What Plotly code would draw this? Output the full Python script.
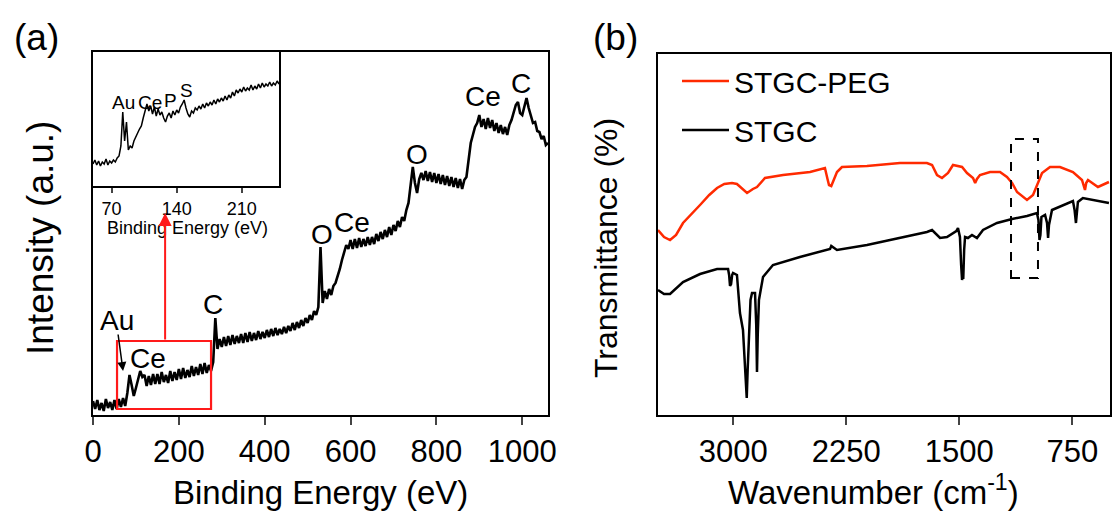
import plotly.graph_objects as go

FONT = "Arial, 'Liberation Sans', Helvetica, sans-serif"
W, H = 1112, 512

# ---------------- (a) XPS survey spectrum ----------------
xps_be = [
    0, 5, 10, 15, 20, 25, 30, 35, 40, 45,
    50, 55, 60, 65, 70, 75, 80, 85, 90, 95,
    100, 105, 110, 115, 120, 125, 130, 135, 140, 145,
    150, 155, 160, 165, 170, 175, 180, 185, 190, 195,
    200, 205, 210, 215, 220, 225, 230, 235, 240, 245,
    250, 255, 260, 265, 270, 275, 280, 285, 290, 295,
    300, 305, 310, 315, 320, 325, 330, 335, 340, 345,
    350, 355, 360, 365, 370, 375, 380, 385, 390, 395,
    400, 405, 410, 415, 420, 425, 430, 435, 440, 445,
    450, 455, 460, 465, 470, 475, 480, 485, 490, 495,
    500, 505, 510, 515, 520, 525, 530, 535, 540, 545,
    550, 555, 560, 565, 570, 575, 580, 585, 590, 595,
    600, 605, 610, 615, 620, 625, 630, 635, 640, 645,
    650, 655, 660, 665, 670, 675, 680, 685, 690, 695,
    700, 705, 710, 715, 720, 725, 730, 735, 740, 745,
    750, 755, 760, 765, 770, 775, 780, 785, 790, 795,
    800, 805, 810, 815, 820, 825, 830, 835, 840, 845,
    850, 855, 860, 865, 870, 875, 880, 885, 890, 895,
    900, 905, 910, 915, 920, 925, 930, 935, 940, 945,
    950, 955, 960, 965, 970, 975, 980, 985, 990, 995,
    1000, 1005, 1010, 1015, 1020, 1025, 1030, 1035, 1040, 1045,
    1050, 1055, 1060,
]
xps_intensity = [
    14, 6, 15, 5, 12, 4, 16, 7, 13, 5,
    15, 6, 16, 8, 17, 9, 22, 40, 30, 19,
    27, 35, 44, 38, 40, 29, 39, 30, 41, 31,
    41, 31, 43, 33, 40, 32, 44, 34, 43, 35,
    46, 36, 47, 37, 45, 38, 49, 39, 48, 40,
    51, 41, 52, 42, 50, 44, 53, 97, 66, 76,
    68, 78, 69, 79, 70, 80, 71, 79, 72, 81,
    72, 82, 73, 83, 74, 82, 75, 84, 76, 83,
    77, 85, 78, 86, 79, 87, 80, 86, 81, 88,
    82, 89, 84, 92, 85, 93, 87, 95, 89, 97,
    92, 100, 95, 104, 100, 108, 168, 112, 124, 116,
    126, 120, 129, 132, 138, 146, 155, 162, 170, 166,
    175, 166, 176, 167, 177, 168, 176, 169, 178, 170,
    178, 171, 181, 174, 183, 176, 185, 178, 188, 180,
    190, 184, 194, 188, 198, 194, 205, 212, 228, 248,
    232, 222, 236, 242, 235, 244, 234, 243, 233, 242,
    232, 241, 231, 240, 230, 239, 229, 238, 228, 237,
    227, 236, 226, 235, 238, 255, 272, 280, 288, 292,
    300, 288, 296, 286, 297, 287, 295, 284, 292, 282,
    290, 281, 288, 280, 290, 295, 302, 310, 313, 302,
    300, 310, 317, 307, 300, 292, 293, 284, 283, 276,
    279, 270, 272,
]
xps_ticks = [0, 200, 400, 600, 800, 1000]

# inset: low binding-energy region
inset_be = [
    50, 52, 54, 56, 58, 60, 62, 64, 66, 68,
    70, 72, 74, 76, 78, 80, 82, 84, 86, 88,
    90, 92, 94, 96, 98, 100, 102, 104, 106, 108,
    110, 112, 114, 116, 118, 120, 122, 124, 126, 128,
    130, 132, 134, 136, 138, 140, 142, 144, 146, 148,
    150, 152, 154, 156, 158, 160, 162, 164, 166, 168,
    170, 172, 174, 176, 178, 180, 182, 184, 186, 188,
    190, 192, 194, 196, 198, 200, 202, 204, 206, 208,
    210, 212, 214, 216, 218, 220, 222, 224, 226, 228,
    230, 232, 234, 236, 238, 240, 242, 244, 246, 248, 250,
]
inset_intensity = [
    22, 26, 21, 25, 20, 24, 22, 27, 21, 25,
    23, 26, 24, 28, 30, 40, 74, 45, 64, 36,
    40, 38, 45, 50, 53, 57, 60, 68, 76, 82,
    75, 80, 72, 79, 70, 77, 71, 74, 68, 64,
    70, 73, 68, 75, 71, 76, 73, 79, 82, 86,
    78, 72, 69, 75, 73, 78, 76, 80, 77, 82,
    78, 83, 80, 84, 81, 86, 82, 87, 84, 88,
    85, 90, 86, 91, 88, 94, 90, 96, 93, 97,
    94, 99, 95, 98, 96, 101, 96, 100, 97, 102,
    98, 103, 99, 102, 100, 104, 100, 103, 101, 105, 102,
]
inset_ticks = [70, 140, 210]

# peak labels (main) : text, BE, intensity
xps_labels = [
    ("Au", 56, 95), ("Ce", 128, 57), ("C", 280, 111),
    ("O", 534, 181), ("Ce", 604, 193), ("O", 755, 261),
    ("Ce", 909, 319), ("C", 998, 332),
]
inset_labels = [("Au", 83, 84), ("Ce", 111, 84), ("P", 133, 86), ("S", 151, 96)]

# ---------------- (b) FTIR ----------------
peg_wn = [3500, 3460, 3420, 3380, 3334, 3308, 3260, 3221, 3160, 3108, 3060, 3009, 2976,
          2940, 2909, 2870, 2843, 2790, 2670, 2491, 2392, 2375, 2365, 2350, 2330, 2312,
          2279, 2113, 1894, 1715, 1681, 1648, 1615, 1575, 1542, 1482, 1449, 1409, 1395,
          1383, 1363, 1296, 1230, 1184, 1150, 1117, 1051, 1011, 951, 898, 832, 746, 686,
          672, 666, 658, 646, 580, 507]
peg_t = [185, 178, 175, 180, 192, 196, 203, 210, 220, 227, 231, 232, 231,
         226, 222, 226, 228, 237, 240, 243, 247, 236, 230, 229, 236, 243,
         248, 249, 252, 252, 250, 240, 237, 242, 250, 248, 242, 237, 232,
         236, 240, 243, 243, 238, 232, 223, 215, 220, 242, 248, 248, 243, 235,
         228, 225, 232, 235, 228, 233]

stgc_wn = [3500, 3460, 3420, 3380, 3334, 3221, 3108, 3035, 3028, 3022, 3015, 3008, 3002,
           2976, 2956, 2936, 2918, 2911, 2905, 2896, 2886, 2876, 2856, 2848, 2843, 2838,
           2830, 2803, 2737, 2558, 2358, 2350, 2340, 2312, 2113, 1894, 1715, 1681, 1628,
           1582, 1520, 1509, 1496, 1488, 1482, 1478, 1474, 1468, 1462, 1443, 1416, 1383,
           1343, 1250, 1150, 1051, 985, 975, 968, 962, 955, 931, 918, 911, 905, 885, 785,
           746, 735, 726, 718, 713, 680, 587, 507]
stgc_t = [125, 121, 121, 127, 133, 141, 146, 146, 140, 129, 131, 140, 142,
          140, 102, 85, 40, 17, 45, 85, 115, 122, 122, 90, 43, 80,
          115, 138, 150, 158, 166, 169, 168, 165, 170, 177, 183, 185, 177,
          178, 184, 187, 178, 150, 135, 140, 136, 165, 178, 177, 180, 177,
          185, 192, 196, 199, 202, 195, 175, 180, 198, 200, 192, 177, 190, 205, 212,
          214, 205, 192, 205, 213, 217, 214, 212]
ftir_ticks = [3000, 2250, 1500, 750]

# ---------------- figure ----------------
def px(x):
    return x / W

def py(y):
    return 1 - y / H

fig = go.Figure()

fig.add_trace(go.Scatter(x=xps_be, y=xps_intensity, mode="lines",
                         line=dict(color="black", width=2.6), showlegend=False,
                         xaxis="x", yaxis="y"))
fig.add_trace(go.Scatter(x=inset_be, y=inset_intensity, mode="lines",
                         line=dict(color="black", width=1.5), showlegend=False,
                         xaxis="x2", yaxis="y2"))
fig.add_trace(go.Scatter(x=peg_wn, y=peg_t, mode="lines", name="STGC-PEG",
                         line=dict(color="#ff2a00", width=2.5), legendgroup="a",
                         xaxis="x3", yaxis="y3"))
fig.add_trace(go.Scatter(x=stgc_wn, y=stgc_t, mode="lines", name="STGC",
                         line=dict(color="black", width=2.5), legendgroup="b",
                         xaxis="x3", yaxis="y3"))

axis_common = dict(showline=True, mirror=True, linecolor="black", linewidth=2,
                   showgrid=False, zeroline=False, automargin=False)

fig.update_layout(
    width=W, height=H,
    margin=dict(l=0, r=0, t=0, b=0, pad=0, autoexpand=False),
    paper_bgcolor="white", plot_bgcolor="white",
    font=dict(family=FONT, color="black"),
    xaxis=dict(domain=[px(93), px(548)], range=[0, 1060], anchor="y",
               tickvals=xps_ticks, ticks="outside", ticklen=8, tickwidth=2,
               tickfont=dict(size=31), **axis_common),
    yaxis=dict(domain=[py(415), py(52)], range=[0, 363], anchor="x",
               showticklabels=False, ticks="", **axis_common),
    xaxis2=dict(domain=[px(93), px(279)], range=[50, 250], anchor="y2",
                tickvals=inset_ticks, ticks="outside", ticklen=5, tickwidth=1.5,
                tickfont=dict(size=18), **{**axis_common, "linewidth": 1.8}),
    yaxis2=dict(domain=[py(186), py(52)], range=[0, 134], anchor="x2",
                showticklabels=False, ticks="", **{**axis_common, "linewidth": 1.8}),
    xaxis3=dict(domain=[px(658), px(1110)], range=[3500, 500], anchor="y3",
                tickvals=ftir_ticks, ticks="outside", ticklen=8, tickwidth=2,
                tickfont=dict(size=31), **axis_common),
    yaxis3=dict(domain=[py(415), py(54)], range=[0, 361], anchor="x3",
                showticklabels=False, ticks="", **axis_common),
    legend=dict(x=px(677), y=py(55), xanchor="left", yanchor="top",
                font=dict(size=30), bgcolor="rgba(0,0,0,0)", tracegroupgap=7,
                itemwidth=47),
    showlegend=True,
)

ann = []
# axis titles and panel labels
ann.append(dict(text="Binding Energy (eV)", x=px(320), y=py(492), xref="paper", yref="paper",
                showarrow=False, font=dict(size=33), xanchor="center", yanchor="middle"))
ann.append(dict(text="Wavenumber (cm<sup>-1</sup>)", x=px(873), y=py(490), xref="paper", yref="paper",
                showarrow=False, font=dict(size=33), xanchor="center", yanchor="middle"))
ann.append(dict(text="Intensity (a.u.)", x=px(40), y=py(238), xref="paper", yref="paper",
                showarrow=False, font=dict(size=37), textangle=-90, xanchor="center", yanchor="middle"))
ann.append(dict(text="Transmittance (%)", x=px(606), y=py(248), xref="paper", yref="paper",
                showarrow=False, font=dict(size=32), textangle=-90, xanchor="center", yanchor="middle"))
ann.append(dict(text="(a)", x=px(36), y=py(37), xref="paper", yref="paper",
                showarrow=False, font=dict(size=37), xanchor="center", yanchor="middle"))
ann.append(dict(text="(b)", x=px(615), y=py(37), xref="paper", yref="paper",
                showarrow=False, font=dict(size=37), xanchor="center", yanchor="middle"))
ann.append(dict(text="Binding Energy (eV)", x=px(187), y=py(228), xref="paper", yref="paper",
                showarrow=False, font=dict(size=18), xanchor="center", yanchor="middle"))

for t, xv, yv in xps_labels:
    ann.append(dict(text=t, x=xv, y=yv, xref="x", yref="y", showarrow=False,
                    font=dict(size=28), xanchor="center", yanchor="middle"))
for t, xv, yv in inset_labels:
    ann.append(dict(text=t, x=xv, y=yv, xref="x2", yref="y2", showarrow=False,
                    font=dict(size=19), xanchor="center", yanchor="middle"))

# Au arrow
ann.append(dict(text="", x=70, y=44, ax=58, ay=82, xref="x", yref="y", axref="x", ayref="y",
                showarrow=True, arrowhead=2, arrowsize=1.2, arrowwidth=1.5, arrowcolor="black"))
# red arrow to the inset
ann.append(dict(text="", x=168, y=202, ax=168, ay=74, xref="x", yref="y", axref="x", ayref="y",
                showarrow=True, arrowhead=2, arrowsize=1.3, arrowwidth=2, arrowcolor="#ff1a1a"))

fig.update_layout(annotations=ann)

fig.add_shape(type="rect", xref="x", yref="y", x0=56, x1=275, y0=6, y1=74,
              line=dict(color="#ff1a1a", width=2.2))
fig.add_shape(type="rect", xref="x3", yref="y3", x0=1157, x1=978, y0=137, y1=276,
              line=dict(color="black", width=2, dash="dash"))

fig.write_html("out.html")
